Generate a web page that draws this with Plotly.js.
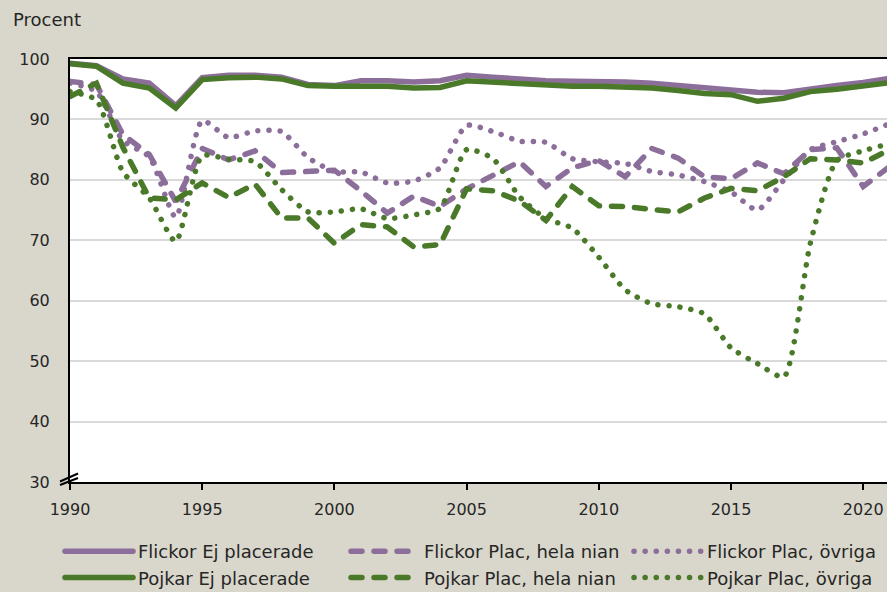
<!DOCTYPE html>
<html>
<head>
<meta charset="utf-8">
<script src="https://cdn.plot.ly/plotly-3.0.1.min.js"></script>
<style>
html, body { margin: 0; padding: 0; background: #D9D7CB; }
#chart { width: 887px; height: 592px; }
path.js-line { stroke-linecap: round; }
</style>
</head>
<body>
<div id="chart"></div>
<script>
// ---- data ----
var years = [1990,1991,1992,1993,1994,1995,1996,1997,1998,1999,2000,2001,2002,2003,2004,2005,
             2006,2007,2008,2009,2010,2011,2012,2013,2014,2015,2016,2017,2018,2019,2020,2021];

var seriesNames = ["Flickor Ej placerade", "Flickor Plac, hela nian", "Flickor Plac, övriga",
                   "Pojkar Ej placerade", "Pojkar Plac, hela nian", "Pojkar Plac, övriga"];

var flickorEj = [99.3,98.9,96.7,96.0,92.3,96.9,97.3,97.3,97.0,95.8,95.6,96.4,96.4,96.2,96.4,97.3,
                 97.0,96.6,96.4,96.3,96.3,96.2,96.0,95.6,95.1,94.9,94.5,94.4,95.1,95.6,96.1,96.8];
var flickorHela = [96.3,95.8,87.5,84.2,76.4,85.2,83.3,84.8,81.2,81.4,81.6,78.2,74.5,77.3,75.6,78.5,
                   80.8,83.0,78.9,82.0,83.2,80.5,85.2,83.6,80.5,80.2,82.8,81.0,85.0,85.3,78.9,82.2];
var flickorOvriga = [96.0,94.6,86.5,83.8,73.8,89.8,87.0,88.1,88.0,83.7,81.4,81.3,79.5,79.8,82.0,89.0,
                     88.0,86.4,86.2,83.5,83.0,82.7,81.4,80.8,79.7,78.0,75.0,80.0,85.0,86.3,87.6,89.3];
var pojkarEj = [99.2,98.8,96.0,95.2,91.9,96.6,96.9,97.0,96.7,95.6,95.5,95.5,95.5,95.2,95.3,96.4,
                96.2,95.9,95.6,95.5,95.5,95.4,95.2,94.8,94.3,94.1,93.0,93.5,94.6,95.0,95.6,96.1];
var pojkarHela = [93.8,96.0,85.4,77.0,76.7,79.5,77.1,79.3,73.7,73.7,69.5,72.6,72.2,68.9,69.3,78.5,
                  78.2,76.5,73.3,78.9,75.7,75.6,75.1,74.7,77.0,78.6,78.2,80.5,83.5,83.3,82.8,85.0];
var pojkarOvriga = [94.6,93.2,81.3,77.0,69.8,84.0,83.4,83.0,78.4,74.7,74.7,75.2,73.6,74.2,75.3,85.0,
                    83.5,77.2,73.6,72.0,67.2,61.8,59.5,59.0,57.8,52.2,49.6,47.4,69.5,83.2,84.8,86.0];

var xTicks = [1990,1995,2000,2005,2010,2015,2020];
var yTicks = [30,40,50,60,70,80,90,100];

// ---- styling ----
var purple = '#8C6E9A';
var green = '#4A7A29';
var fontFam = '"DejaVu Sans", Verdana, sans-serif';
var dashed = '11px,12px';
var dotted = '0.1px,11px';

function tr(name, y, color, dash, width, shape, legendId) {
  return {
    type: 'scatter', mode: 'lines', name: name, x: years, y: y,
    legend: legendId, legendgroup: name,
    line: { color: color, width: width, dash: dash, shape: shape, smoothing: 0.6 },
    hoverinfo: 'skip'
  };
}

var data = [
  tr(seriesNames[0], flickorEj, purple, 'solid', 5.5, 'linear', 'legend'),
  tr(seriesNames[1], flickorHela, purple, dashed, 5.5, 'linear', 'legend2'),
  tr(seriesNames[2], flickorOvriga, purple, dotted, 5.5, 'spline', 'legend3'),
  tr(seriesNames[3], pojkarEj, green, 'solid', 5.5, 'linear', 'legend'),
  tr(seriesNames[4], pojkarHela, green, dashed, 5.5, 'linear', 'legend2'),
  tr(seriesNames[5], pojkarOvriga, green, dotted, 5.5, 'spline', 'legend3')
];

function leg(xpx) {
  return {
    orientation: 'v', xref: 'container', yref: 'container',
    x: xpx / 887, xanchor: 'left', y: 1 - 533/592, yanchor: 'top',
    itemwidth: 68, tracegroupgap: 8,
    bgcolor: 'rgba(0,0,0,0)', borderwidth: 0,
    font: { family: fontFam, size: 18, color: '#262626' },
    traceorder: 'normal'
  };
}

var layout = {
  width: 887, height: 592,
  paper_bgcolor: '#D9D7CB',
  plot_bgcolor: '#FFFFFF',
  margin: { l: 70, r: 0, t: 59, b: 110, pad: 0, autoexpand: false },
  font: { family: fontFam, size: 16, color: '#262626' },
  title: {
    text: 'Procent', xref: 'container', yref: 'container',
    x: 13/887, xanchor: 'left', y: 1 - 20/592, yanchor: 'middle',
    font: { family: fontFam, size: 18, color: '#262626' }
  },
  showlegend: true,
  legend: leg(60),
  legend2: leg(346),
  legend3: leg(629),
  xaxis: {
    range: [1990, 2020.9], tickmode: 'array', tickvals: xTicks, ticktext: xTicks.map(String),
    showgrid: false, zeroline: false,
    showline: true, linecolor: '#000000', linewidth: 2, mirror: true,
    ticks: 'outside', ticklen: 6, tickwidth: 2, tickcolor: '#000000',
    ticklabelstandoff: 6,
    tickfont: { family: fontFam, size: 16, color: '#262626' }
  },
  yaxis: {
    range: [30, 100], tickmode: 'array', tickvals: yTicks, ticktext: yTicks.map(String),
    showgrid: true, gridcolor: '#D9D9D9', gridwidth: 2, zeroline: false,
    showline: true, linecolor: '#000000', linewidth: 2, mirror: false,
    ticks: '', ticklabelstandoff: 15,
    tickfont: { family: fontFam, size: 16, color: '#262626' }
  },
  shapes: [
    { type: 'line', xref: 'paper', yref: 'paper', xsizemode: 'pixel', ysizemode: 'pixel',
      xanchor: 0, yanchor: 0, x0: -10, x1: 8, y0: 0.5, y1: 8.5, line: { color: '#000', width: 2 } },
    { type: 'line', xref: 'paper', yref: 'paper', xsizemode: 'pixel', ysizemode: 'pixel',
      xanchor: 0, yanchor: 0, x0: -10, x1: 8, y0: -3, y1: 4, line: { color: '#000', width: 2 } }
  ]
};

Plotly.newPlot('chart', data, layout, { displayModeBar: false, staticPlot: true });
</script>
</body>
</html>
